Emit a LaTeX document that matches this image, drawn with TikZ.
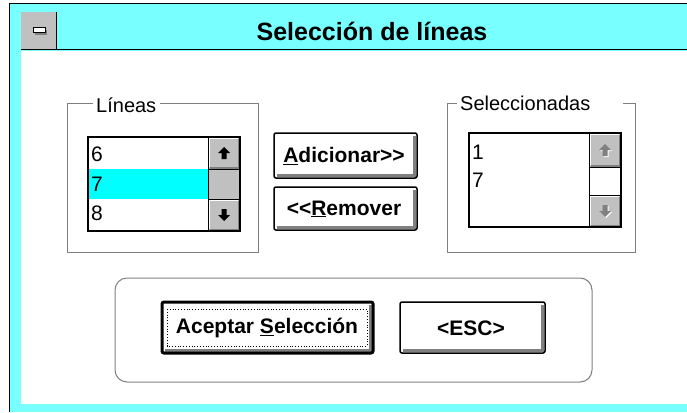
\documentclass[tikz,border=0pt]{standalone}
\usepackage{fontspec}
\setmainfont{Liberation Sans}
\definecolor{dither}{RGB}{120,255,255}
\definecolor{hilite}{RGB}{0,255,255}
\definecolor{btngray}{RGB}{192,192,192}
\definecolor{shadowgray}{RGB}{128,128,128}
\tikzset{
  lbl/.style={inner sep=0pt, font=\fontsize{20}{22}\selectfont},
  item/.style={inner sep=0pt, anchor=west, font=\fontsize{21}{23}\selectfont},
  btntext/.style={inner sep=0pt, font=\bfseries\fontsize{21}{23}\selectfont},
  groupline/.style={draw=shadowgray, line width=1pt},
  sbtn/.style={fill=btngray, draw=black, line width=1pt},
}
\newcommand{\uparrowglyph}[3]{% x,y center, color
  \fill[#3] (#1,#2-6) -- (#1+6,#2) -- (#1+2.5,#2) -- (#1+2.5,#2+6) -- (#1-2.5,#2+6) -- (#1-2.5,#2) -- (#1-6,#2) -- cycle;}
\newcommand{\downarrowglyph}[3]{%
  \fill[#3] (#1,#2+6) -- (#1+6,#2) -- (#1+2.5,#2) -- (#1+2.5,#2-6) -- (#1-2.5,#2-6) -- (#1-2.5,#2) -- (#1-6,#2) -- cycle;}
\newcommand{\sbutton}[4]{% x1,y1,x2,y2 : 3D gray scroll button
  \fill[btngray] (#1,#2) rectangle (#3,#4);
  \draw[white, line width=1.5pt] (#1+1.5,#4-2) -- (#1+1.5,#2+1.5) -- (#3-2,#2+1.5);
  \draw[shadowgray, line width=2pt] (#1+2,#4-1.5) -- (#3-1.5,#4-1.5) -- (#3-1.5,#2+2);}
\newcommand{\pbutton}[5]{% x1,y1,x2,y2, border width
  \fill[white] (#1,#2) rectangle (#3,#4);
  \draw[shadowgray, line width=2.5pt] (#1+3,#4-2.5) -- (#3-2.5,#4-2.5) -- (#3-2.5,#2+3);
  \draw[black, line width=#5, rounded corners=2pt] (#1,#2) rectangle (#3,#4);}
\begin{document}
\begin{tikzpicture}[x=1pt,y=-1pt]
\useasboundingbox (0,0) rectangle (687,412);
% window frame
\fill[white] (0,0) rectangle (687,412);
\fill[dither] (10,3) rectangle (687,412);
\fill[white] (21,51) rectangle (687,404);
\draw[black, line width=1.5pt] (9.5,412) -- (9.5,3.5) -- (687,3.5);
\draw[black, line width=1pt] (21,50) -- (687,50);
% system menu box
\fill[btngray] (21,12) rectangle (56,49.5);
\draw[black, line width=1pt] (56,12) -- (56,50);
\fill[shadowgray] (35,30) rectangle (47,35);
\draw[black, fill=white, line width=1pt] (33,28) rectangle (45,33);
% title
\node[inner sep=0pt, font=\bfseries\fontsize{25}{27}\selectfont] (title) at (372,31) {Selección de líneas};

% left group
\node[lbl, anchor=west] (glbl) at (96,105) {Líneas};
\draw[groupline] ([xshift=-3pt]glbl.west |- 0,103) -- (67,103) -- (67,252) -- (258,252) -- (258,103) -- ([xshift=4pt]glbl.east |- 0,103);
% left list
\fill[hilite] (89,169) rectangle (208,199);
\sbutton{208}{137}{240}{169}
\fill[btngray] (208,169) rectangle (240,199);
\sbutton{208}{199}{240}{231}
\draw[black, line width=1pt] (208,137) -- (208,231);
\draw[black, line width=1pt] (208,169) -- (240,169) (208,199) -- (240,199);
\uparrowglyph{224}{153}{black}
\downarrowglyph{224}{215}{black}
\draw[black, line width=1.5pt] (88,137) rectangle (240,231);
\node[item] (i6) at (91,154) {6};
\node[item] (i7) at (91,184) {7};
\node[item] (i8) at (91,213) {8};

% right group
\node[lbl, anchor=west] (rlbl) at (460,103) {Seleccionadas};
\draw[groupline] ([xshift=-3pt]rlbl.west |- 0,103) -- (447,103) -- (447,252) -- (635,252) -- (635,103) -- (623,103);
% right list
\sbutton{589}{133}{621}{167}
\sbutton{589}{195}{621}{227}
\draw[black, line width=1pt] (589,133) -- (589,227);
\draw[black, line width=1pt] (589,167) -- (621,167) (589,195) -- (621,195);
\uparrowglyph{606}{151}{white}
\uparrowglyph{605}{150}{shadowgray}
\downarrowglyph{606}{212}{white}
\downarrowglyph{605}{211}{shadowgray}
\draw[black, line width=1.5pt] (469,133) rectangle (621,227);
\node[item] (s1) at (472,152) {1};
\node[item] (s7) at (472,180) {7};

% middle buttons
\pbutton{274}{133}{417}{178}{1.5pt}
\node[btntext] (add) at (344,156) {\underline{A}dicionar>\kern0pt>};
\pbutton{274}{187}{417}{230}{1.5pt}
\node[btntext] (rem) at (344,209) {<\kern0pt<\underline{R}emover};

% bottom group
\draw[groupline, rounded corners=12pt] (115,278) rectangle (592,382);
\pbutton{162}{302}{373}{353}{3pt}
\draw[black, dotted, line width=0.8pt] (167,309) rectangle (367,346);
\node[btntext] (ok) at (267,328) {Aceptar \underline{S}elección};
\pbutton{400}{302}{545}{353}{1.5pt}
\node[btntext] (esc) at (471,328) {<ESC>};
\end{tikzpicture}
\end{document}
